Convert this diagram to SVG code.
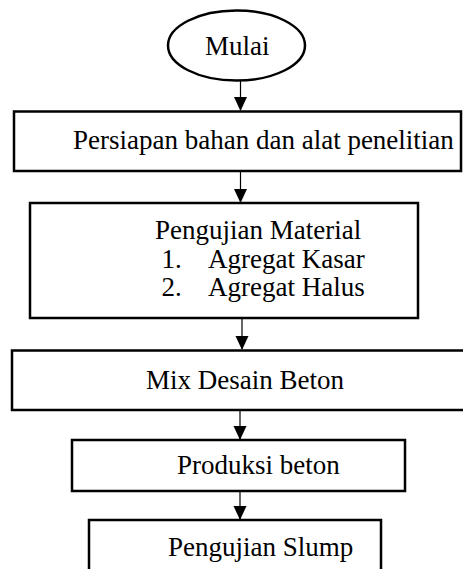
<svg xmlns="http://www.w3.org/2000/svg" width="463" height="569" viewBox="0 0 463 569">
<style>
.b{fill:#fff;stroke:#000;stroke-width:2.5}
.t{font-family:"Liberation Serif","Times New Roman",serif;font-size:27px;fill:#000}
.c{stroke:#000;stroke-width:1.2;fill:none}
</style>
<rect width="463" height="569" fill="#fff"/>
<g id="connectors">
<line class="c" x1="240.5" y1="81" x2="240.5" y2="110"/>
<path d="M234,97 L247,97 L240.5,111 Z"/>
<line class="c" x1="240.5" y1="171" x2="240.5" y2="202"/>
<path d="M234,189 L247,189 L240.5,203 Z"/>
<line class="c" x1="242" y1="318" x2="242" y2="349"/>
<path d="M235.5,336 L248.5,336 L242,350 Z"/>
<line class="c" x1="240" y1="410" x2="240" y2="439"/>
<path d="M233.5,426 L246.5,426 L240,440 Z"/>
<line class="c" x1="240" y1="491" x2="240" y2="519"/>
<path d="M233.5,506 L246.5,506 L240,520 Z"/>
</g>
<g id="mulai">
<ellipse class="b" cx="236.5" cy="45.5" rx="68.5" ry="35" stroke-width="2"/>
<text class="t" x="205" y="55">Mulai</text>
</g>
<g id="persiapan">
<rect class="b" x="14" y="111.5" width="447" height="59.5"/>
<text class="t" x="73" y="149">Persiapan bahan dan alat penelitian</text>
</g>
<g id="pengujian-material">
<rect class="b" x="30" y="203" width="388" height="115"/>
<text class="t" x="155" y="239">Pengujian Material</text>
<text class="t" x="161.5" y="268">1.</text>
<text class="t" x="208" y="268">Agregat Kasar</text>
<text class="t" x="161.5" y="296">2.</text>
<text class="t" x="208" y="296">Agregat Halus</text>
</g>
<g id="mix-desain">
<rect class="b" x="12" y="350.5" width="470" height="59.5"/>
<text class="t" x="146" y="389">Mix Desain Beton</text>
</g>
<g id="produksi">
<rect class="b" x="72" y="440" width="333" height="51"/>
<text class="t" x="177" y="474">Produksi beton</text>
</g>
<g id="slump">
<rect class="b" x="89" y="520" width="292" height="70"/>
<text class="t" x="168" y="556">Pengujian Slump</text>
</g>
</svg>
